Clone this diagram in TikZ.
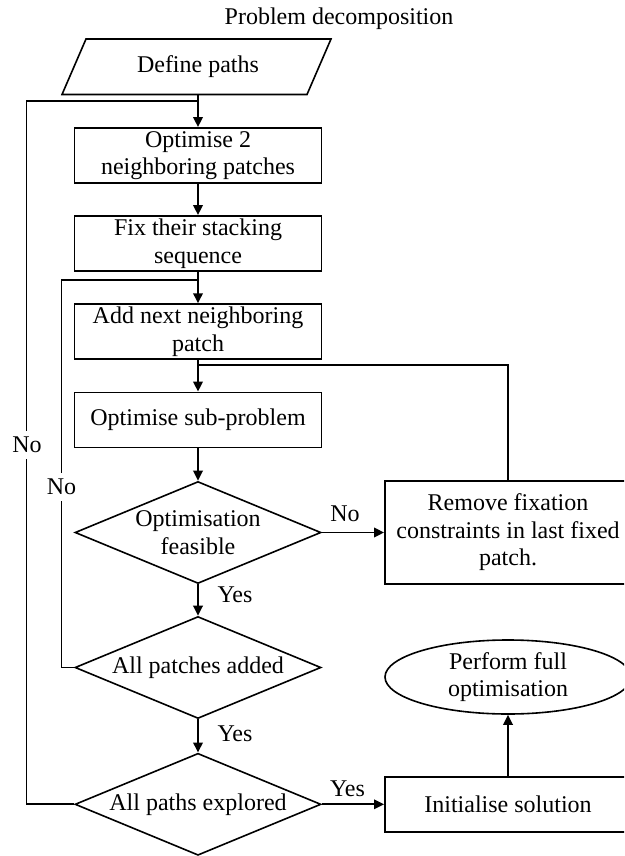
\documentclass[tikz,border=0pt]{standalone}
\usepackage{fontspec}
\setmainfont{Liberation Serif}
\usetikzlibrary{arrows.meta,shapes.geometric}
\begin{document}
\begin{tikzpicture}[x=1pt,y=-1pt,
  every node/.style={font=\fontsize{24}{27.5}\selectfont},
  box/.style={draw, line width=1.9pt, rectangle, minimum width=247pt, minimum height=55pt, inner sep=0pt, align=center},
  dia/.style={draw, line width=1.6pt, diamond, aspect=2.41, minimum width=246pt, minimum height=102pt, inner sep=0pt, align=center},
  conn/.style={line width=1.9pt},
  arr/.style={line width=1.9pt, -{Triangle[length=10pt,width=9.5pt]}},
  lbl/.style={inner sep=0pt},
  gaplbl/.style={fill=white, inner xsep=2pt, inner ysep=6pt}
]
\useasboundingbox (0,0) rectangle (624,856);
\clip (0,0) rectangle (624,856);

\node[lbl] (title) at (339,18.4) {Problem decomposition};
\node[inner sep=0pt, minimum height=55.5pt] (define) at (198,66.75) {Define paths};
\draw[line width=1.6pt] (62,94.5) -- (307,94.5) -- (331,39) -- (86,39) -- cycle;

\node[box] (b1) at (198,155.5) {Optimise 2\\neighboring patches};
\node[box] (b2) at (198,243.5) {Fix their stacking\\sequence};
\node[box] (b3) at (198,331.7) {Add next neighboring\\patch};
\node[box] (b4) at (198,420) {Optimise sub-problem};
\node[dia] (d1) at (198,532.5) {Optimisation\\feasible};
\node[dia] (d2) at (198,667.5) {All patches added};
\node[dia] (d3) at (198,804.3) {All paths explored};
\node[box, minimum width=246pt, minimum height=103pt] (rm) at (508,532.5) {Remove fixation\\constraints in last fixed\\patch.};
\node[box, minimum width=246pt] (init) at (508,804.3) {Initialise solution};
\node[draw, ellipse, line width=1.6pt, minimum width=246pt, minimum height=74pt, inner sep=0pt, align=center] (perf) at (508,677) {Perform full\\optimisation};

\coordinate (j1) at (198,101);
\coordinate (o1) at (26.5,101);
\coordinate (j2) at (198,280);
\coordinate (i1) at (61.5,280);
\coordinate (j3) at (198,365);

\draw[arr] (define.south) -- (b1.north);
\draw[arr] (b1) -- (b2);
\draw[arr] (b2) -- (b3);
\draw[arr] (b3) -- (b4);
\draw[arr] (b4) -- (d1);
\draw[arr] (d1) -- (d2);
\draw[arr] (d2) -- (d3);
\draw[arr] (d1) -- (rm);
\draw[arr] (d3) -- (init);
\draw[arr] (init) -- (perf);

\draw[conn] (d3.west) -| (o1) -- (j1);
\draw[conn] (d2.west) -| (i1) -- (j2);
\draw[conn] (rm.north) |- (j3);

\node[gaplbl] (no1) at (27,445) {No};
\node[gaplbl] (no2) at (61.5,487) {No};
\node[lbl] (no3) at (345,513.5) {No};
\node[lbl] (yes1) at (235,595) {Yes};
\node[lbl] (yes2) at (235,733.5) {Yes};
\node[lbl] (yes3) at (347.5,788.5) {Yes};
\end{tikzpicture}
\end{document}
